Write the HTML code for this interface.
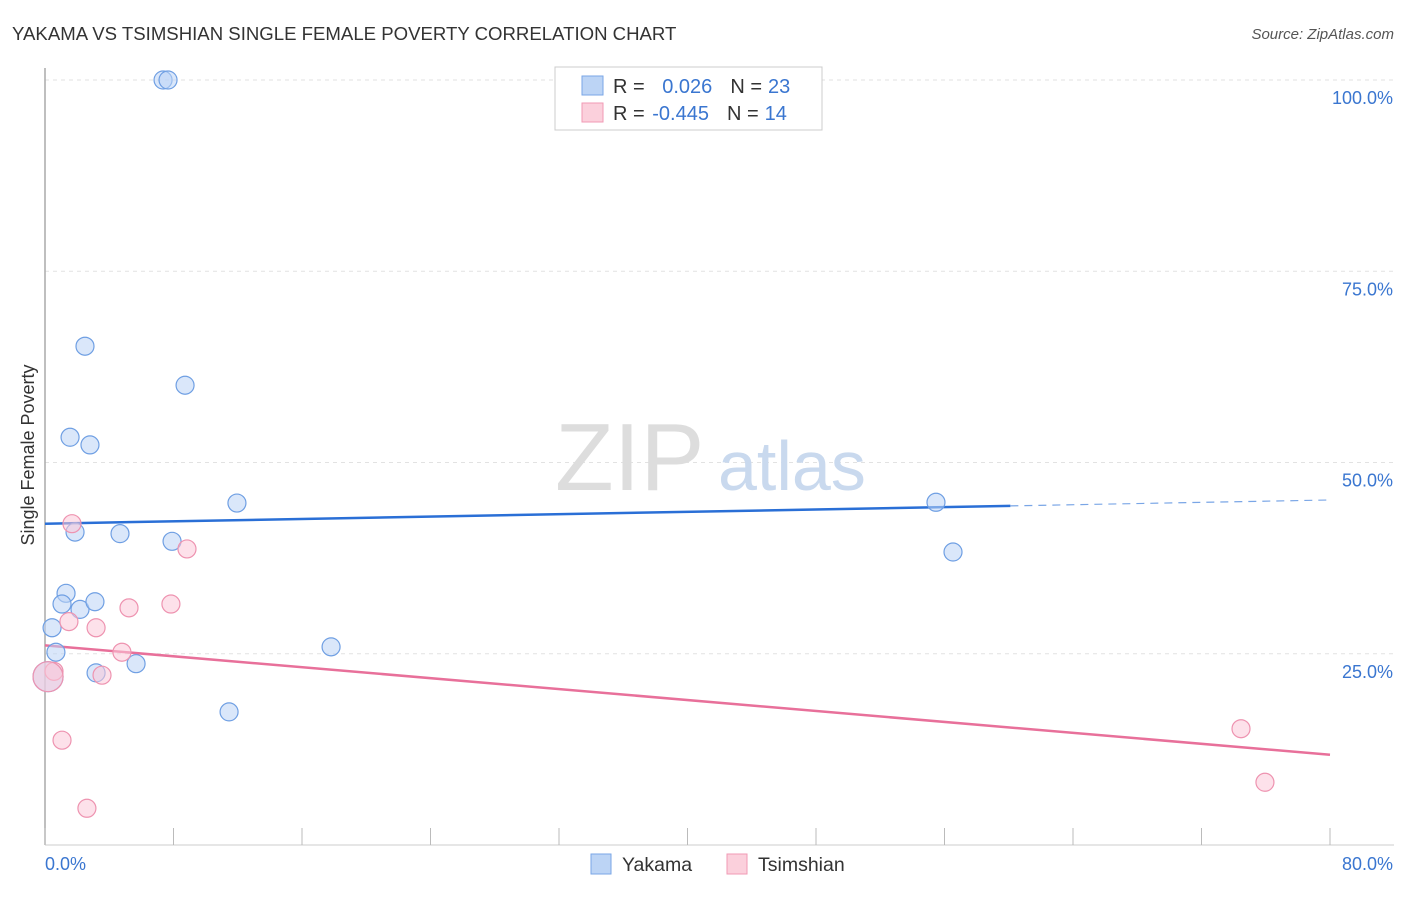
<!DOCTYPE html>
<html><head><meta charset="utf-8"><style>
body{margin:0;background:#fff;font-family:"Liberation Sans",sans-serif;}
svg text{font-family:"Liberation Sans",sans-serif;}
</style></head><body>
<svg width="1406" height="892" viewBox="0 0 1406 892" xmlns="http://www.w3.org/2000/svg">
<text x="12" y="40" font-size="18.6" fill="#333">YAKAMA VS TSIMSHIAN SINGLE FEMALE POVERTY CORRELATION CHART</text>
<text x="1394" y="39" font-size="15" fill="#555" font-style="italic" text-anchor="end">Source: ZipAtlas.com</text>
<g id="grid"></g>
<text x="555" y="490" font-size="96" fill="#ddd" font-family="Liberation Serif">ZIP</text>
<text x="718" y="490" font-size="70" fill="#c9d9ee">atlas</text>
<line x1="45" y1="68" x2="45" y2="845" stroke="#aaa" stroke-width="1.5"/>
<line x1="45" y1="845" x2="1394" y2="845" stroke="#ccc" stroke-width="1"/>
<g id="ticks"></g>
<text x="45" y="870" font-size="18" fill="#3a76d0">0.0%</text>
<text x="1393" y="870" font-size="18" fill="#3a76d0" text-anchor="end">80.0%</text>
<text transform="translate(34,455) rotate(-90)" font-size="18" fill="#333" text-anchor="middle">Single Female Poverty</text>
<g id="lines"></g>
<g id="points"></g>
<g>
<rect x="555" y="67" width="267" height="63" fill="#fff" stroke="#ccc"/>
<rect x="582" y="76" width="21" height="19" fill="#bcd4f5" stroke="#7aa6e6"/>
<rect x="582" y="103" width="21" height="19" fill="#fbd0dc" stroke="#f09ab4"/>
<text x="613" y="93" font-size="20" fill="#333">R = <tspan fill="#3a76d0" dx="12">0.026</tspan><tspan dx="18">N =</tspan><tspan fill="#3a76d0" dx="6">23</tspan></text>
<text x="613" y="120" font-size="20" fill="#333">R = <tspan fill="#3a76d0" dx="2">-0.445</tspan><tspan dx="18">N =</tspan><tspan fill="#3a76d0" dx="6">14</tspan></text>
</g>
<g>
<rect x="591" y="854" width="20" height="20" fill="#bcd4f5" stroke="#7aa6e6"/>
<text x="622" y="871" font-size="19.5" fill="#333">Yakama</text>
<rect x="727" y="854" width="20" height="20" fill="#fbd0dc" stroke="#f09ab4"/>
<text x="758" y="871" font-size="19.5" fill="#333">Tsimshian</text>
</g>
</svg>
<script>
const yTicks=[25,50,75,100];
const yTickLabels=["25.0%","50.0%","75.0%","100.0%"];
const xTicks=[0,8,16,24,32,40,48,56,64,72,80];
const yakamaX=[7.35,7.66,2.49,8.72,1.56,2.80,11.95,55.47,1.87,4.67,7.91,56.53,1.31,1.06,2.18,3.11,0.44,0.68,17.81,5.67,3.18,11.46,0.19];
const yakamaY=[100.0,100.0,65.2,60.1,53.3,52.3,44.7,44.8,40.9,40.7,39.7,38.3,32.9,31.5,30.8,31.8,28.4,25.2,25.9,23.7,22.5,17.4,22.0];
const tsimX=[1.68,8.84,5.23,7.84,1.49,3.18,4.79,3.55,0.56,0.19,1.06,2.61,74.46,75.95];
const tsimY=[42.0,38.7,31.0,31.5,29.2,28.4,25.2,22.2,22.7,22.0,13.7,4.8,15.2,8.2];
const yakamaTrend=[42.0,45.1];
const tsimTrend=[26.1,11.8];
const NS="http://www.w3.org/2000/svg";
const sx=v=>45+v/80*1285;
const sy=v=>845-v*7.65;
function mk(t,a,p){const e=document.createElementNS(NS,t);for(const k in a)e.setAttribute(k,a[k]);document.getElementById(p).appendChild(e);return e;}
yTicks.forEach((t,i)=>{
 const l=mk('line',{x1:45,x2:1394,y1:sy(t),y2:sy(t),stroke:'#e2e2e2','stroke-dasharray':'4,4'},'grid');
 
 
 const tx=mk('text',{x:1393,y:sy(t)+24,'font-size':18,fill:'#3a76d0','text-anchor':'end'},'grid');
 tx.textContent=yTickLabels[i];
 
 
});
xTicks.forEach(t=>{
 const l=mk('line',{x1:sx(t),x2:sx(t),y1:828,y2:845,stroke:'#bbb'},'ticks');
 
 
});
let b=mk('line',{x1:sx(0),y1:sy(yakamaTrend[0]),x2:sx(60.1),y2:sy(yakamaTrend[0]+(yakamaTrend[1]-yakamaTrend[0])*60.1/80),stroke:'#2a6fd6','stroke-width':2.5},'lines');


let b2=mk('line',{x1:sx(60.1),y1:sy(yakamaTrend[0]+(yakamaTrend[1]-yakamaTrend[0])*60.1/80),x2:sx(80),y2:sy(yakamaTrend[1]),stroke:'#7aa6e6','stroke-width':1.2,'stroke-dasharray':'8,6'},'lines');


let p=mk('line',{x1:sx(0),y1:sy(tsimTrend[0]),x2:sx(80),y2:sy(tsimTrend[1]),stroke:'#e8709a','stroke-width':2.5},'lines');


function pts(X,Y,fill,stroke,name,bigIdx){
 X.forEach((x,i)=>{
  const c=mk('circle',{cx:sx(x),cy:sy(Y[i]),r:i===bigIdx?15:9,fill:fill,'fill-opacity':0.55,stroke:stroke,'stroke-width':1.2},'points');
  
  
 });
}
pts(yakamaX,yakamaY,'#bcd4f5','#6f9fe3','yakama-point',22);
pts(tsimX,tsimY,'#fbc8d8','#ee93b0','tsimshian-point',9);
</script>
</body></html>
